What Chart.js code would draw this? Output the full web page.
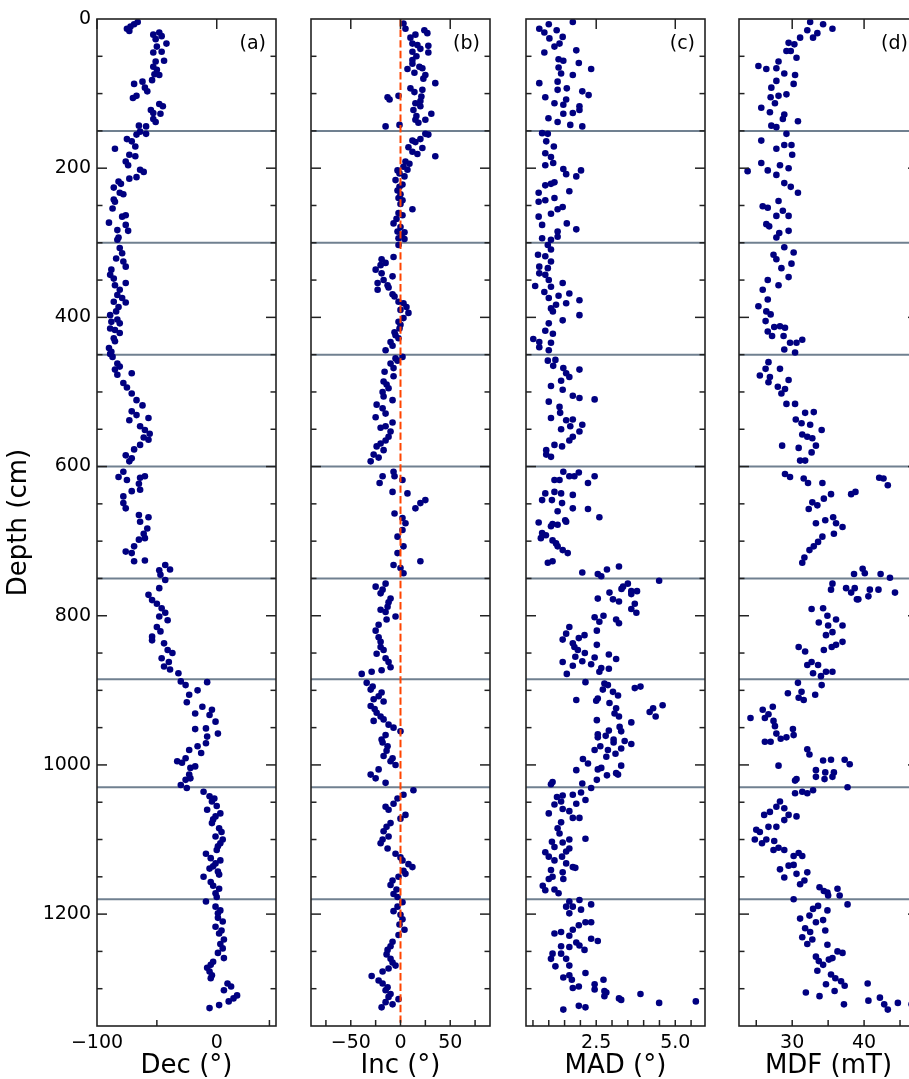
<!DOCTYPE html>
<html>
<head>
<meta charset="utf-8">
<script src="https://cdn.jsdelivr.net/npm/chart.js@4.4.0/dist/chart.umd.min.js"></script>
<style>
  html, body { margin: 0; padding: 0; background: #fff; overflow: hidden; width: 909px; height: 1079px; }
  #wrap { position: relative; width: 909px; height: 1079px; overflow: hidden; }
  #wrap canvas { position: absolute; top: 0; }
</style>
</head>
<body>
<div id="wrap">
  <canvas id="decChart"></canvas>
  <canvas id="incChart"></canvas>
  <canvas id="madChart"></canvas>
  <canvas id="mdfChart"></canvas>
</div>
<script>
// section boundaries (cm) and tick values
const sectionDepths = [150, 300, 450, 600, 750, 885, 1030, 1180];
const depthTicks = [0, 200, 400, 600, 800, 1000, 1200];
const decTicks = [-100, 0];
const incTicks = [-50, 0, 50];
const madTicks = [2.5, 5.0];
const mdfTicks = [30, 40];
const decMinor = [-50, 44];
const incMinor = [-75, -50, -25, 0, 25, 50, 75];
const madMinor = [0.5, 1, 1.5, 2, 2.5, 3, 3.5, 4, 4.5, 5, 5.5];
const mdfMinor = [25, 30, 35, 40, 45];

// [depth (cm), value]
const decData = [
  [4,-66],[7,-69],[10,-72],[13,-75],[16,-73],[18,-48],[21,-53],[23,-46],[27,-51],[33,-42],[37,-50],[44,-46],[45,-53],[56,-44],[57,-51],[64,-53],[68,-50],[74,-52],[75,-48],[82,-54],
  [84,-62],[87,-69],[92,-60],[97,-58],[103,-67],[106,-70],[114,-48],[117,-45],[122,-55],[126,-53],[127,-47],[134,-53],[138,-51],[143,-65],[144,-59],
  [151,-64],[154,-59],[155,-67],[161,-75],[164,-71],[171,-68],[174,-85],[182,-73],[184,-68],[191,-76],[196,-74],[202,-64],[205,-61],[212,-67],[214,-73],[218,-82],[221,-80],[226,-86],
  [233,-81],[235,-78],[242,-86],[245,-85],[254,-87],[263,-76],[265,-79],[273,-90],[276,-76],[283,-83],[284,-74],[293,-82],[296,-83],
  [307,-81],[314,-79],[321,-84],[325,-78],[332,-76],[336,-88],[343,-89],[348,-86],[354,-76],[357,-85],[363,-81],[370,-83],[374,-79],[379,-86],[380,-76],[386,-82],[392,-84],[397,-89],
  [403,-83],[406,-88],[408,-81],[415,-89],[417,-85],[421,-81],[428,-86],[432,-85],[441,-90],[446,-88],
  [449,-89],[453,-87],[462,-83],[466,-81],[470,-85],[475,-71],[477,-83],[488,-78],[494,-75],[502,-71],[511,-67],[518,-62],[526,-71],[531,-67],[535,-57],[538,-73],[546,-64],[551,-60],
  [556,-56],[561,-61],[564,-57],[571,-64],[577,-69],[585,-76],[589,-71],[593,-73],
  [607,-78],[613,-60],[614,-82],[615,-64],[618,-75],[623,-65],[631,-64],[633,-71],[640,-78],[649,-78],[656,-76],[665,-65],[668,-57],[674,-64],[683,-58],[690,-61],[696,-60],[698,-65],
  [707,-69],[714,-76],[716,-71],[726,-60],[727,-69],[732,-43],[738,-39],[739,-48],[745,-47],
  [752,-43],[763,-48],[772,-57],[779,-54],[784,-50],[790,-46],[796,-43],[801,-48],[806,-41],[815,-50],[821,-47],[828,-54],[833,-54],[837,-44],[846,-41],[850,-37],[857,-46],[862,-40],
  [868,-44],[872,-39],[877,-32],
  [888,-30],[889,-8],[893,-26],[900,-16],[906,-23],[916,-25],[922,-12],[926,-4],[931,-18],[933,-6],[942,-1],[951,-9],[952,-18],[958,1],[962,-8],[971,-9],[975,-16],[980,-23],[984,-13],
  [991,-26],[995,-33],[997,-29],[1002,-18],[1004,-22],[1013,-23],[1018,-22],[1020,-26],[1027,-30],
  [1031,-25],[1036,-11],[1042,-6],[1045,-2],[1049,-4],[1055,0],[1060,-8],[1065,3],[1069,-1],[1073,-3],[1078,-4],[1085,2],[1090,4],[1096,-1],[1100,5],[1105,3],[1109,1],[1114,0],
  [1119,-9],[1125,-5],[1128,3],[1132,-1],[1136,-3],[1139,-6],[1143,1],[1147,2],[1150,-11],[1157,-5],[1162,-3],[1166,2],[1172,-1],[1177,0],
  [1183,-9],[1190,-1],[1195,3],[1199,1],[1205,1],[1210,5],[1217,-1],[1222,4],[1226,2],[1234,6],[1240,3],[1246,5],[1252,1],[1259,6],[1264,-3],[1268,-5],[1272,-8],[1277,-6],[1282,-4],
  [1286,-5],[1293,9],[1297,12],[1302,6],[1309,17],[1313,14],[1317,10],[1322,2],[1326,-6]
];

const incData = [
  [6,3],[13,5],[15,24],[19,27],[21,15],[25,10],[33,12],[35,17],[36,28],[40,20],[44,12],[45,28],[50,16],[55,12],[60,12],[64,19],[66,22],[67,7],[72,14],[75,25],[80,23],[86,35],
  [93,10],[95,22],[98,14],[103,-2],[104,21],[105,-13],[108,-11],[110,20],[113,15],[117,20],[122,13],[127,31],[130,16],[135,15],[135,25],[139,18],[142,-1],[144,-15],
  [154,25],[155,28],[161,20],[163,12],[165,15],[172,8],[173,22],[178,12],[181,17],[184,35],[191,5],[194,9],[198,3],[202,7],[203,-3],[207,-1],[211,4],[216,-5],[222,2],[225,-1],
  [230,-3],[235,0],[240,-2],[243,2],[248,0],[255,12],[260,-2],[263,2],[268,-4],[274,-7],[279,0],[285,-3],[286,4],[290,1],[294,-2],[295,4],
  [303,-2],[319,-7],[322,-19],[327,-15],[330,-20],[336,-25],[341,-19],[345,-8],[350,-17],[354,-23],[357,-13],[360,-12],[363,-23],[369,-8],[372,-6],[379,-2],[381,3],[386,6],[390,0],
  [394,8],[401,3],[406,-2],[410,0],[415,-1],[420,-6],[424,-5],[428,-2],[433,-10],[438,-8],[444,-15],[453,2],
  [455,-5],[458,-3],[462,-10],[468,-7],[473,-16],[479,-7],[486,-17],[490,-14],[495,-12],[500,-18],[506,-17],[511,-8],[517,-24],[522,-18],[529,-15],[534,-25],[541,-8],[546,-15],
  [548,-20],[553,-10],[560,-12],[565,-15],[569,-20],[573,-24],[578,-17],[584,-27],[588,-22],[593,-30],
  [607,-7],[613,-18],[613,-6],[618,2],[622,-21],[634,-8],[636,7],[645,25],[649,20],[656,15],[663,-6],[669,2],[676,5],[685,2],[694,-3],[707,3],[716,-3],[727,20],[732,-7],[736,0],[743,3],
  [757,-15],[761,-25],[765,-18],[770,-20],[777,-10],[782,-12],[788,-13],[792,-20],[795,-15],[801,-5],[805,-14],[812,-22],[820,-25],[829,-22],[835,-20],[842,-20],[846,-17],[851,-24],
  [857,-15],[862,-12],[869,-10],[873,-19],[875,-29],[878,-39],
  [890,-34],[895,-28],[899,-30],[903,-19],[908,-22],[912,-27],[915,-17],[921,-30],[925,-26],[930,-24],[935,-20],[939,-17],[941,-27],[946,-12],[950,-7],[955,0],[960,-15],[966,-19],
  [970,-18],[975,-13],[981,-14],[988,-17],[991,-8],[995,-10],[1000,-5],[1006,-22],[1013,-30],[1018,-25],[1024,-15],
  [1034,13],[1040,3],[1045,-3],[1052,-7],[1056,-15],[1060,-12],[1067,5],[1072,0],[1078,-10],[1083,-14],[1089,-17],[1096,-12],[1100,-18],[1105,-20],[1112,-13],[1119,-5],[1124,0],
  [1128,2],[1133,8],[1137,12],[1142,3],[1146,5],[1150,-2],[1155,-8],[1161,-10],[1167,-4],[1173,-7],[1177,-3],
  [1184,2],[1190,-3],[1196,-7],[1201,0],[1207,2],[1214,-1],[1221,4],[1228,-2],[1237,-8],[1243,-10],[1248,-13],[1254,-14],[1260,-10],[1265,-8],[1269,-5],[1273,-12],[1277,-18],
  [1283,-29],[1289,-22],[1293,-18],[1298,-13],[1302,-15],[1307,-10],[1311,-12],[1314,-2],[1318,-15],[1321,-8],[1325,-19]
];

const madData = [
  [4,1.76],[7,1.0],[13,0.7],[15,1.25],[18,0.86],[24,1.44],[26,1.02],[33,1.34],[37,1.18],[42,1.87],[45,0.86],[54,1.31],[56,1.46],[59,1.95],[65,1.31],[67,2.34],[73,1.39],[75,1.76],
  [84,1.28],[86,0.7],[93,1.57],[95,1.28],[97,2.06],[102,2.26],[105,0.89],[108,1.55],[113,1.18],[115,1.46],[117,1.97],[122,1.97],[126,1.76],[127,1.46],[133,0.99],[138,1.28],[142,1.68],[144,2.06],
  [153,0.79],[154,0.97],[164,0.92],[171,1.16],[180,0.89],[185,1.07],[193,1.14],[196,0.89],[201,1.46],[203,2.02],[208,1.55],[211,1.87],[219,1.18],[221,1.07],[223,0.89],[231,1.65],
  [233,0.68],[240,1.18],[243,0.89],[245,0.68],[252,1.44],[255,1.28],[261,1.07],[265,0.68],[274,1.57],[276,0.79],[282,1.87],[285,1.28],[292,1.28],[294,0.79],[296,1.07],
  [303,0.97],[309,1.07],[316,0.66],[318,0.89],[325,1.07],[332,0.7],[334,0.97],[341,0.7],[343,0.89],[350,1.0],[354,1.44],[358,0.57],[359,1.07],[366,0.86],[368,1.65],[371,1.31],
  [374,1.0],[377,1.97],[381,1.55],[383,1.23],[388,1.07],[392,1.13],[397,1.97],[404,1.44],[408,1.0],[418,0.89],[422,1.13],[429,0.51],[433,0.7],[434,1.07],[440,0.7],[444,1.0],
  [457,1.21],[458,0.97],[465,1.14],[468,1.46],[470,1.97],[475,1.55],[480,1.65],[485,1.39],[492,1.07],[497,1.44],[505,1.76],[508,1.97],[510,2.45],[513,1.0],[520,1.34],[528,1.36],
  [535,1.07],[537,1.76],[538,1.55],[544,2.06],[546,1.68],[550,1.39],[553,1.97],[560,1.76],[565,1.65],[571,1.18],[573,1.42],[578,0.92],[584,0.92],[587,1.07],
  [607,1.46],[608,1.95],[613,1.81],[613,1.65],[613,2.45],[618,1.18],[618,1.34],[622,2.24],[634,1.18],[636,0.89],[636,1.39],[638,1.76],[645,0.79],[645,1.1],[649,1.42],[656,1.76],
  [657,2.24],[660,1.28],[668,2.6],[672,1.52],[674,1.55],[675,0.68],[677,1.12],[678,1.28],[680,1.07],[689,0.79],[692,0.91],[696,0.75],[699,1.12],[703,1.23],[707,1.28],[712,1.44],
  [716,1.6],[727,1.12],[729,0.97],[734,3.22],[738,2.84],[742,2.06],[744,2.55],[747,2.66],
  [753,4.49],[757,3.5],[761,3.35],[764,3.3],[767,3.61],[767,3.79],[769,2.92],[771,3.61],[777,2.55],[778,3.03],[781,3.22],[784,3.72],[791,3.61],[796,3.77],[800,2.73],[802,2.45],
  [805,3.13],[808,2.6],[810,3.22],[815,1.65],[820,2.52],[824,1.55],[826,2.13],[830,1.95],[832,1.44],[837,1.76],[839,2.52],[842,1.81],[846,1.92],[850,2.14],[852,2.9],[855,1.84],
  [856,2.45],[858,3.13],[861,2.06],[862,1.44],[865,2.34],[867,1.76],[870,2.66],[871,2.9],[875,2.6],[878,1.57],
  [889,2.16],[891,2.76],[893,2.87],[895,3.9],[897,3.72],[899,2.71],[902,3.03],[907,3.19],[911,2.55],[913,1.87],[914,2.5],[917,2.92],[920,4.6],[924,4.3],[924,3.13],[929,4.19],
  [931,3.08],[935,4.38],[935,3.22],[940,2.52],[943,3.61],[949,3.24],[954,2.9],[955,3.29],[959,2.55],[961,2.8],[963,2.55],[966,3.05],[968,3.4],[970,3.05],[972,3.61],[975,2.63],
  [978,3.29],[980,2.45],[980,2.87],[985,3.11],[989,2.82],[992,2.08],[998,2.24],[1001,3.29],[1004,2.66],[1006,2.55],[1007,1.87],[1011,3.13],[1013,3.19],[1014,2.84],[1020,2.52],
  [1023,1.12],[1025,2.06],[1026,1.07],[1031,2.34],
  [1037,2.02],[1040,1.76],[1041,1.44],[1043,1.26],[1047,2.16],[1049,1.39],[1052,1.87],[1053,1.18],[1059,1.44],[1062,1.65],[1065,1.0],[1071,1.76],[1071,1.97],[1077,1.39],[1085,1.28],
  [1092,1.34],[1099,2.16],[1100,1.65],[1103,1.1],[1104,1.44],[1110,1.18],[1112,1.65],[1116,1.55],[1117,0.89],[1123,1.0],[1123,1.42],[1128,1.18],[1132,1.55],[1137,1.76],[1138,1.84],
  [1141,1.07],[1144,1.44],[1150,1.12],[1153,1.0],[1153,1.46],[1162,0.81],[1167,1.18],[1168,0.89],[1172,1.31],
  [1181,1.97],[1183,1.65],[1187,2.34],[1190,1.55],[1190,1.76],[1194,2.02],[1199,1.65],[1211,2.16],[1211,2.34],[1215,1.95],[1221,1.76],[1224,1.39],[1226,1.18],[1229,1.65],[1233,2.34],
  [1236,2.55],[1238,1.87],[1242,1.97],[1243,1.39],[1244,1.65],[1248,2.13],[1253,1.12],[1253,1.39],[1260,1.07],[1260,1.55],[1269,1.65],[1270,1.21],[1279,2.16],[1282,1.65],[1285,1.46],
  [1288,1.73],[1288,2.73],[1294,2.45],[1297,1.95],[1299,1.76],[1301,2.45],[1303,2.76],[1305,2.82],[1307,3.9],[1310,2.76],[1313,3.22],[1315,3.29],[1317,5.65],[1319,4.49],[1323,1.95],
  [1325,2.16],[1328,1.46]
];

const mdfData = [
  [4,32.5],[7,34.3],[13,35.6],[15,32.1],[19,33.5],[25,32.9],[25,31.1],[32,29.5],[34,30.3],[43,29.2],[43,29.8],[52,30.6],[57,28.1],[63,25.3],[66,27.8],[67,26.4],[73,28.9],[75,30.4],
  [83,27.8],[87,30.2],[92,27.1],[101,29.2],[103,28.1],[105,27.0],[113,27.6],[119,25.7],[125,26.9],[128,28.9],[134,28.7],[137,30.8],[143,27.1],[145,27.8],
  [154,29.2],[163,25.7],[169,28.9],[169,29.9],[174,27.8],[182,30.0],[193,25.7],[196,28.3],[200,29.5],[203,26.6],[204,23.8],[209,27.8],[220,28.9],[225,29.8],[233,30.8],[244,28.1],
  [251,25.9],[253,26.6],[257,28.7],[264,27.8],[264,29.5],[275,26.4],[278,26.8],[284,29.5],[287,28.2],[293,27.8],
  [306,28.9],[313,30.2],[316,27.4],[322,27.8],[328,29.9],[334,28.5],[346,29.5],[350,26.6],[357,28.1],[363,25.9],[376,26.6],[385,25.3],[392,26.4],[396,27.0],[405,26.3],[412,28.3],
  [413,27.5],[414,29.0],[419,26.6],[425,27.2],[425,28.8],[430,31.4],[434,29.7],[434,30.6],[443,28.9],[447,30.4],
  [460,26.7],[469,26.3],[469,28.3],[478,25.5],[480,26.9],[484,29.5],[487,26.7],[493,28.0],[496,29.0],[502,28.5],[516,29.2],[516,30.4],[527,33.0],[528,31.8],[537,30.5],[542,31.3],
  [544,32.5],[551,34.1],[557,31.4],[560,32.1],[562,32.8],[572,33.3],[572,28.6],[575,30.9],[581,32.7],[592,31.1],[592,31.8],
  [610,29.0],[614,29.7],[615,42.1],[616,42.7],[616,31.6],[622,32.2],[622,34.2],[625,43.3],[634,38.8],[637,38.2],[637,35.4],[643,34.4],[648,32.8],[652,33.5],[657,32.3],[668,35.7],
  [672,34.6],[676,33.3],[676,36.1],[681,37.0],[690,35.8],[694,34.2],[701,33.6],[707,33.0],[712,32.4],[722,31.7],[729,31.4],
  [737,39.8],[743,40.1],[744,38.6],[744,42.3],[749,43.6],[757,35.6],[763,37.5],[763,38.7],[765,35.4],[765,40.8],[765,42.0],[769,38.2],[769,44.3],[774,40.6],[778,39.2],[778,39.0],
  [790,34.3],[791,32.7],[800,34.9],[805,36.1],[809,33.7],[813,35.0],[813,37.0],[822,35.6],[826,34.7],[835,37.0],[839,36.1],[842,35.5],[842,30.9],[846,34.4],[848,31.8],[862,32.7],
  [866,32.1],[866,33.6],[875,34.7],[875,35.6],[877,32.9],[881,34.0],
  [890,30.8],[893,34.1],[902,31.3],[904,29.4],[906,33.2],[910,30.9],[913,31.6],[922,27.3],[926,25.9],[932,26.7],[937,24.2],[937,26.2],[941,27.4],[948,27.6],[952,30.1],[958,27.8],
  [960,30.2],[963,29.2],[965,28.4],[969,26.2],[969,27.0],[979,32.1],[986,32.4],[993,35.4],[993,37.3],[994,34.3],[999,38.0],[1001,28.1],[1007,33.3],[1010,34.6],[1010,35.8],
  [1016,35.6],[1016,33.3],[1019,34.5],[1019,30.6],[1021,30.4],[1030,37.7],
  [1034,32.9],[1036,31.4],[1038,30.4],[1038,32.1],[1049,28.3],[1056,27.8],[1058,28.9],[1063,26.9],[1067,26.1],[1067,29.5],[1069,30.6],[1074,28.9],[1083,26.7],[1083,27.8],[1087,25.0],
  [1090,25.5],[1100,24.8],[1100,26.4],[1102,27.5],[1105,25.8],[1111,28.1],[1114,27.4],[1114,28.9],[1118,30.9],[1122,30.2],[1122,31.4],[1134,30.2],[1135,29.5],[1140,28.3],[1144,32.1],
  [1146,30.6],[1151,28.9],[1155,31.7],[1160,31.1],[1164,33.8],[1166,36.3],[1169,34.4],[1171,34.9],[1175,36.6],[1175,35.0],[1180,30.2],[1187,37.7],
  [1189,33.6],[1193,32.9],[1195,34.9],[1202,32.4],[1206,31.1],[1208,34.3],[1211,33.3],[1219,31.8],[1222,34.6],[1224,32.5],[1231,31.4],[1234,32.8],[1240,32.1],[1241,34.9],[1250,36.3],
  [1252,37.0],[1257,33.3],[1259,35.6],[1261,35.1],[1263,33.7],[1268,34.3],[1276,33.5],[1281,35.4],[1286,36.0],[1290,36.8],[1293,40.5],[1294,34.7],[1296,37.3],[1303,35.9],[1305,31.9],
  [1310,33.8],[1312,42.2],[1316,40.6],[1319,44.7],[1321,37.2],[1321,42.8],[1321,46.6],[1328,43.3]
];

Chart.defaults.font.family = "'DejaVu Sans', sans-serif";
Chart.defaults.color = '#000';

const H = 1079;
const NAVY = '#000080';
const SPINE = '#222';

// minor depth ticks every 50 cm
const depthMinor = [];
for (let d = 50; d <= 1300; d += 50) depthMinor.push(d);

function fmt(v, dec) {
  const s = dec ? v.toFixed(1) : String(v);
  return s.replace('-', '\u2212');
}

function makePanel(p) {
  const cv = document.getElementById(p.id);
  cv.width = p.width;
  cv.height = H;
  cv.style.left = p.left + 'px';

  const line = (ctx, x1, y1, x2, y2) => {
    ctx.beginPath(); ctx.moveTo(x1, y1); ctx.lineTo(x2, y2); ctx.stroke();
  };

  const deco = {
    id: 'deco_' + p.id,
    beforeDatasetsDraw(chart) {
      const { ctx, chartArea: a, scales: { y } } = chart;
      ctx.save();
      ctx.strokeStyle = '#708090';
      ctx.lineWidth = 2;
      sectionDepths.forEach(d => {
        const py = y.getPixelForValue(d);
        line(ctx, a.left, py, a.right, py);
      });
      ctx.restore();
    },
    afterDatasetsDraw(chart) {
      const { ctx, chartArea: a, scales: { x, y } } = chart;
      ctx.save();
      if (p.zero) {
        ctx.strokeStyle = '#ff4500';
        ctx.lineWidth = 2;
        ctx.setLineDash([7.4, 3.2]);
        const px = x.getPixelForValue(0);
        line(ctx, px, a.top, px, a.bottom);
        ctx.setLineDash([]);
      }
      ctx.strokeStyle = SPINE;
      ctx.lineWidth = 1.5;
      depthMinor.forEach(d => {
        const py = y.getPixelForValue(d);
        const len = depthTicks.includes(d) ? 10 : 5.5;
        line(ctx, a.left, py, a.left + len, py);
        line(ctx, a.right, py, a.right - len, py);
      });
      p.ticks.forEach(v => {
        const px = x.getPixelForValue(v);
        line(ctx, px, a.top, px, a.top + 10);
      });
      p.minor.forEach(v => {
        const px = x.getPixelForValue(v);
        line(ctx, px, a.bottom, px, a.bottom - 6);
      });
      ctx.lineWidth = 1.6;
      ctx.strokeRect(a.left, a.top, a.right - a.left, a.bottom - a.top);
      ctx.fillStyle = '#000';
      ctx.font = "19px 'DejaVu Sans'";
      ctx.textAlign = 'right';
      ctx.textBaseline = 'middle';
      ctx.fillText(p.tag, a.right - 10, a.top + 25);
      ctx.restore();
    }
  };

  return new Chart(cv, {
    type: 'scatter',
    data: {
      datasets: [{
        data: p.data.map(([d, v]) => ({ x: v, y: d })),
        backgroundColor: NAVY,
        borderColor: NAVY,
        borderWidth: 0,
        pointRadius: 3.3,
        pointHoverRadius: 3.3
      }]
    },
    options: {
      responsive: false,
      animation: false,
      devicePixelRatio: 1,
      events: [],
      layout: { padding: { top: 19, right: p.padR, bottom: 0, left: 0 } },
      plugins: { legend: { display: false }, tooltip: { enabled: false } },
      scales: {
        x: {
          type: 'linear',
          min: p.min,
          max: p.max,
          grid: { display: false, drawTicks: false },
          border: { display: false },
          afterBuildTicks: s => { s.ticks = p.ticks.map(v => ({ value: v })); },
          afterFit: s => { s.height = 53; },
          ticks: { autoSkip: false, maxRotation: 0, padding: 6, font: { size: 19 }, callback: v => fmt(v, p.decimals) },
          title: { display: true, text: p.label, font: { size: 26, lineHeight: 1.0 }, padding: { top: 0, bottom: 0 } }
        },
        y: {
          type: 'linear',
          reverse: true,
          min: 0,
          max: 1350,
          grid: { display: false, drawTicks: false },
          border: { display: false },
          afterBuildTicks: s => { s.ticks = depthTicks.map(v => ({ value: v })); },
          afterFit: s => { s.width = p.padL; },
          ticks: { display: p.showY, autoSkip: false, padding: 6, font: { size: 19 }, callback: v => String(v) },
          title: { display: p.showY, text: 'Depth (cm)', font: { size: 26 }, padding: { top: 4, bottom: 0 } }
        }
      }
    },
    plugins: [deco]
  });
}

makePanel({ id: 'decChart', left: 0, width: 290, padL: 97, padR: 14, min: -100, max: 49.5,
  ticks: decTicks, minor: decMinor, label: 'Dec (°)', tag: '(a)', data: decData, showY: true });
makePanel({ id: 'incChart', left: 286, width: 224, padL: 25, padR: 20, min: -90, max: 90,
  ticks: incTicks, minor: incMinor, label: 'Inc (°)', tag: '(b)', data: incData, showY: false, zero: true });
makePanel({ id: 'madChart', left: 501, width: 224, padL: 25, padR: 20, min: 0.28, max: 5.94,
  ticks: madTicks, minor: madMinor, label: 'MAD (°)', tag: '(c)', data: madData, showY: false, decimals: true });
makePanel({ id: 'mdfChart', left: 714, width: 224, padL: 25, padR: 20, min: 22.6, max: 47.5,
  ticks: mdfTicks, minor: mdfMinor, label: 'MDF (mT)', tag: '(d)', data: mdfData, showY: false });
</script>
</body>
</html>
